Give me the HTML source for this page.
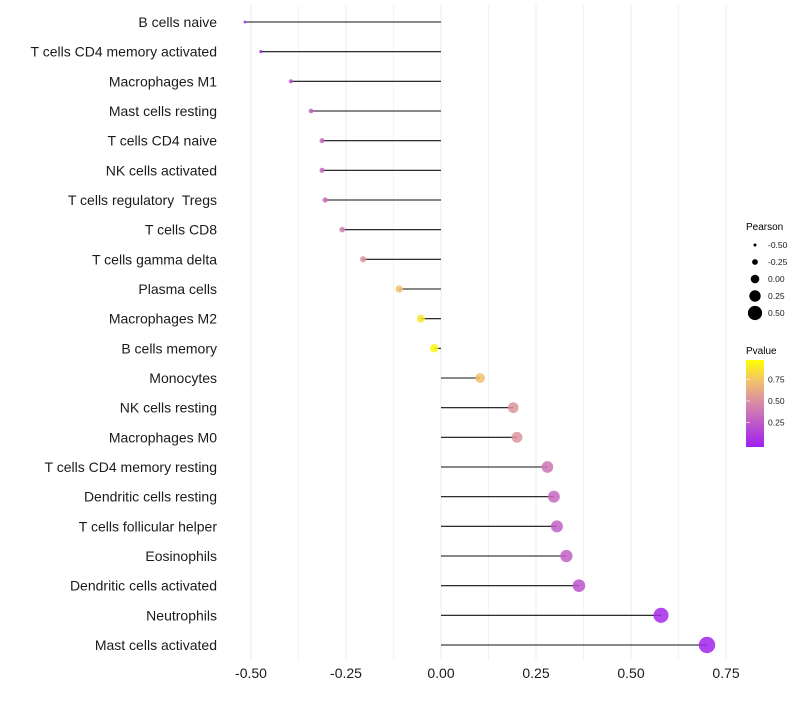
<!DOCTYPE html>
<html><head><meta charset="utf-8"><style>
html,body{margin:0;padding:0;background:#fff;}
svg text{font-family:"Liberation Sans",sans-serif;white-space:pre;}
</style></head><body>
<svg id="chart" width="800" height="700" xmlns="http://www.w3.org/2000/svg">
<defs><linearGradient id="pgrad" x1="0" y1="1" x2="0" y2="0">
<stop offset="0" stop-color="#9f1ff0"/><stop offset="0.5" stop-color="#d789a8"/><stop offset="0.75" stop-color="#f1bf6e"/><stop offset="1" stop-color="#ffff00"/></linearGradient></defs>
<g id="grid"></g>
<g id="marks"></g>
<g id="ylabels"></g>
<g id="xlabels"></g>
<g id="sizeLegend">
<text x="746" y="230" font-size="10">Pearson</text>
</g>
<g id="colorLegend">
<text x="746" y="354" font-size="10">Pvalue</text>
<rect x="746" y="360" width="18" height="87" fill="url(#pgrad)"/>
</g>
</svg>
<script>
const categories=["B cells naive","T cells CD4 memory activated","Macrophages M1","Mast cells resting","T cells CD4 naive","NK cells activated","T cells regulatory  Tregs","T cells CD8","T cells gamma delta","Plasma cells","Macrophages M2","B cells memory","Monocytes","NK cells resting","Macrophages M0","T cells CD4 memory resting","Dendritic cells resting","T cells follicular helper","Eosinophils","Dendritic cells activated","Neutrophils","Mast cells activated"];
const pearson=[-0.516,-0.474,-0.395,-0.342,-0.313,-0.313,-0.305,-0.26,-0.205,-0.11,-0.053,-0.018,0.103,0.19,0.2,0.28,0.297,0.305,0.33,0.363,0.579,0.70];
const pvalue=[0.05,0.08,0.2,0.3,0.33,0.33,0.35,0.45,0.55,0.75,0.9,0.97,0.75,0.55,0.55,0.4,0.35,0.3,0.3,0.25,0.05,0.03];
const xTicks=[-0.5,-0.25,0,0.25,0.5,0.75];
const xTickLabels=["-0.50","-0.25","0.00","0.25","0.50","0.75"];
const sizeLegendValues=[-0.5,-0.25,0,0.25,0.5];
const sizeLegendLabels=["-0.50","-0.25","0.00","0.25","0.50"];
const colorLegendValues=[0.25,0.5,0.75];
const colorLegendLabels=["0.25","0.50","0.75"];

const NS="http://www.w3.org/2000/svg";
const x=v=>441+v*380;
const y=i=>22+i*(623/21);
const r=v=>4.3+5.6*v;
const pyBar=p=>444-p*86;
function lerp(a,b,t){return Math.round(a+(b-a)*t);}
const stops=[[0,[159,31,240]],[0.5,[215,137,168]],[0.75,[241,191,110]],[1,[255,255,0]]];
function col(p){for(let k=1;k<stops.length;k++){if(p<=stops[k][0]){const t=(p-stops[k-1][0])/(stops[k][0]-stops[k-1][0]);const a=stops[k-1][1],b=stops[k][1];return `rgb(${lerp(a[0],b[0],t)},${lerp(a[1],b[1],t)},${lerp(a[2],b[2],t)})`;}}return "rgb(255,255,0)";}
function mk(tag,attrs,parent){const e=document.createElementNS(NS,tag);for(const k in attrs)e.setAttribute(k,attrs[k]);parent.appendChild(e);return e;}

const grid=document.getElementById('grid');
for(let v=-0.5;v<=0.751;v+=0.125){
  const g=mk('line',{x1:x(v),x2:x(v),y1:5,y2:660,stroke:'#ebebeb','stroke-width':Math.abs((v*4)%1)<1e-6?1:0.6},grid);
  
  
}
const marks=document.getElementById('marks');
const yl=document.getElementById('ylabels');
categories.forEach((c,i)=>{
  const l=mk('line',{x1:x(0),x2:x(pearson[i]),y1:y(i),y2:y(i),stroke:'#111','stroke-width':1.1},marks);
  
  
  const p=mk('circle',{cx:x(pearson[i]),cy:y(i),r:r(pearson[i]),fill:col(pvalue[i]),'fill-opacity':0.85},marks);
  
  
  const t=mk('text',{x:217,y:y(i)+5,'font-size':14,'text-anchor':'end',fill:'#1a1a1a'},yl);
  t.textContent=c;
  
  
});
const xl=document.getElementById('xlabels');
xTicks.forEach((v,i)=>{
  const t=mk('text',{x:x(v),y:678,'font-size':14,'text-anchor':'middle',fill:'#1a1a1a'},xl);
  t.textContent=xTickLabels[i];
  
  
});
const sl=document.getElementById('sizeLegend');
sizeLegendValues.forEach((v,i)=>{
  const cy=245+i*17;
  const c=mk('circle',{cx:755,cy:cy,r:r(v),fill:'#000'},sl);
  
  
  const t=mk('text',{x:768,y:cy+3,'font-size':8.5,fill:'#1a1a1a'},sl);
  t.textContent=sizeLegendLabels[i];
  
  
});
const cl=document.getElementById('colorLegend');
colorLegendValues.forEach((v,i)=>{
  const t=mk('text',{x:768,y:pyBar(v)+3,'font-size':8.5,fill:'#1a1a1a'},cl);
  t.textContent=colorLegendLabels[i];
  
  
  const tk=mk('line',{x1:746,x2:750,y1:pyBar(v),y2:pyBar(v),stroke:'#fff','stroke-opacity':0.6},cl);
  
  
});
</script>
</body></html>
